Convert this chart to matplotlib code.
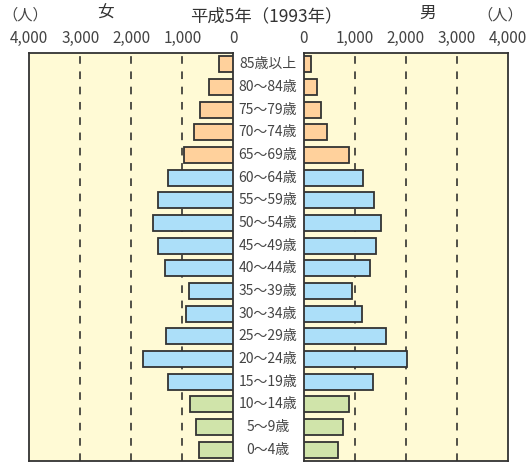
import matplotlib
matplotlib.use("Agg")
import matplotlib.pyplot as plt

plt.rcParams['font.family'] = ['Noto Sans CJK JP', 'DejaVu Sans']

ages = ["0〜4歳", "5〜9歳", "10〜14歳", "15〜19歳", "20〜24歳", "25〜29歳",
        "30〜34歳", "35〜39歳", "40〜44歳", "45〜49歳", "50〜54歳", "55〜59歳",
        "60〜64歳", "65〜69歳", "70〜74歳", "75〜79歳", "80〜84歳", "85歳以上"]
female = [667, 725, 843, 1275, 1765, 1314, 934, 875, 1333, 1483, 1569, 1483,
          1275, 960, 765, 647, 470, 290]
male = [686, 778, 890, 1360, 2033, 1615, 1144, 948, 1307, 1412, 1529, 1373,
        1176, 896, 458, 347, 255, 145]
ticks = [0, 1000, 2000, 3000, 4000]
tick_labels = ["0", "1,000", "2,000", "3,000", "4,000"]

c_young = "#D0E4AA"
c_work = "#ACDFF9"
c_old = "#FFD19C"
bg = "#FFFAD5"
edge = "#333333"
txt = "#444444"

def colour(i):
    if i < 3:
        return c_young
    if i < 13:
        return c_work
    return c_old

colors = [colour(i) for i in range(len(ages))]

W, H = 528, 462
fig = plt.figure(figsize=(W / 100, H / 100), dpi=100)
bot = 1.0 / H
hgt = 408.0 / H
axL = fig.add_axes([29.3 / W, bot, 204.0 / W, hgt])
axR = fig.add_axes([303.5 / W, bot, 204.0 / W, hgt])

y = list(range(len(ages)))
for ax, vals in ((axL, female), (axR, male)):
    ax.set_facecolor(bg)
    ax.barh(y, vals, height=0.7, color=colors, edgecolor=edge, linewidth=1.3, zorder=3)
    ax.set_xlim(0, 4000)
    ax.set_ylim(-0.5, len(ages) - 0.5)
    for t in ticks[1:4]:
        ax.axvline(t, color="#222222", linewidth=1.1, linestyle=(0, (5, 5)), zorder=1)
    ax.set_yticks([])
    ax.set_xticks(ticks)
    ax.set_xticklabels(tick_labels)
    ax.xaxis.tick_top()
    ax.tick_params(axis='x', length=0, pad=4, labelsize=11, colors=txt)
    for s in ax.spines.values():
        s.set_color(edge)
        s.set_linewidth(1.3)
axL.invert_xaxis()

step = 408.0 / len(ages)
for i, a in enumerate(ages):
    ypix = 461 - (i + 0.5) * step
    fig.text(268 / W, 1 - ypix / H, a, ha="center", va="center",
             fontsize=10, color=txt)

fig.text(266 / W, 1 - 16 / H, "平成5年（1993年）", ha="center", va="center", fontsize=12.5, color="#333333")
fig.text(105 / W, 1 - 13 / H, "女", ha="center", va="center", fontsize=12, color="#333333")
fig.text(428 / W, 1 - 13 / H, "男", ha="center", va="center", fontsize=12, color="#333333")
fig.text(25 / W, 1 - 15 / H, "（人）", ha="center", va="center", fontsize=11, color=txt)
fig.text(500 / W, 1 - 15 / H, "（人）", ha="center", va="center", fontsize=11, color=txt)

fig.savefig("out.png", dpi=100)
